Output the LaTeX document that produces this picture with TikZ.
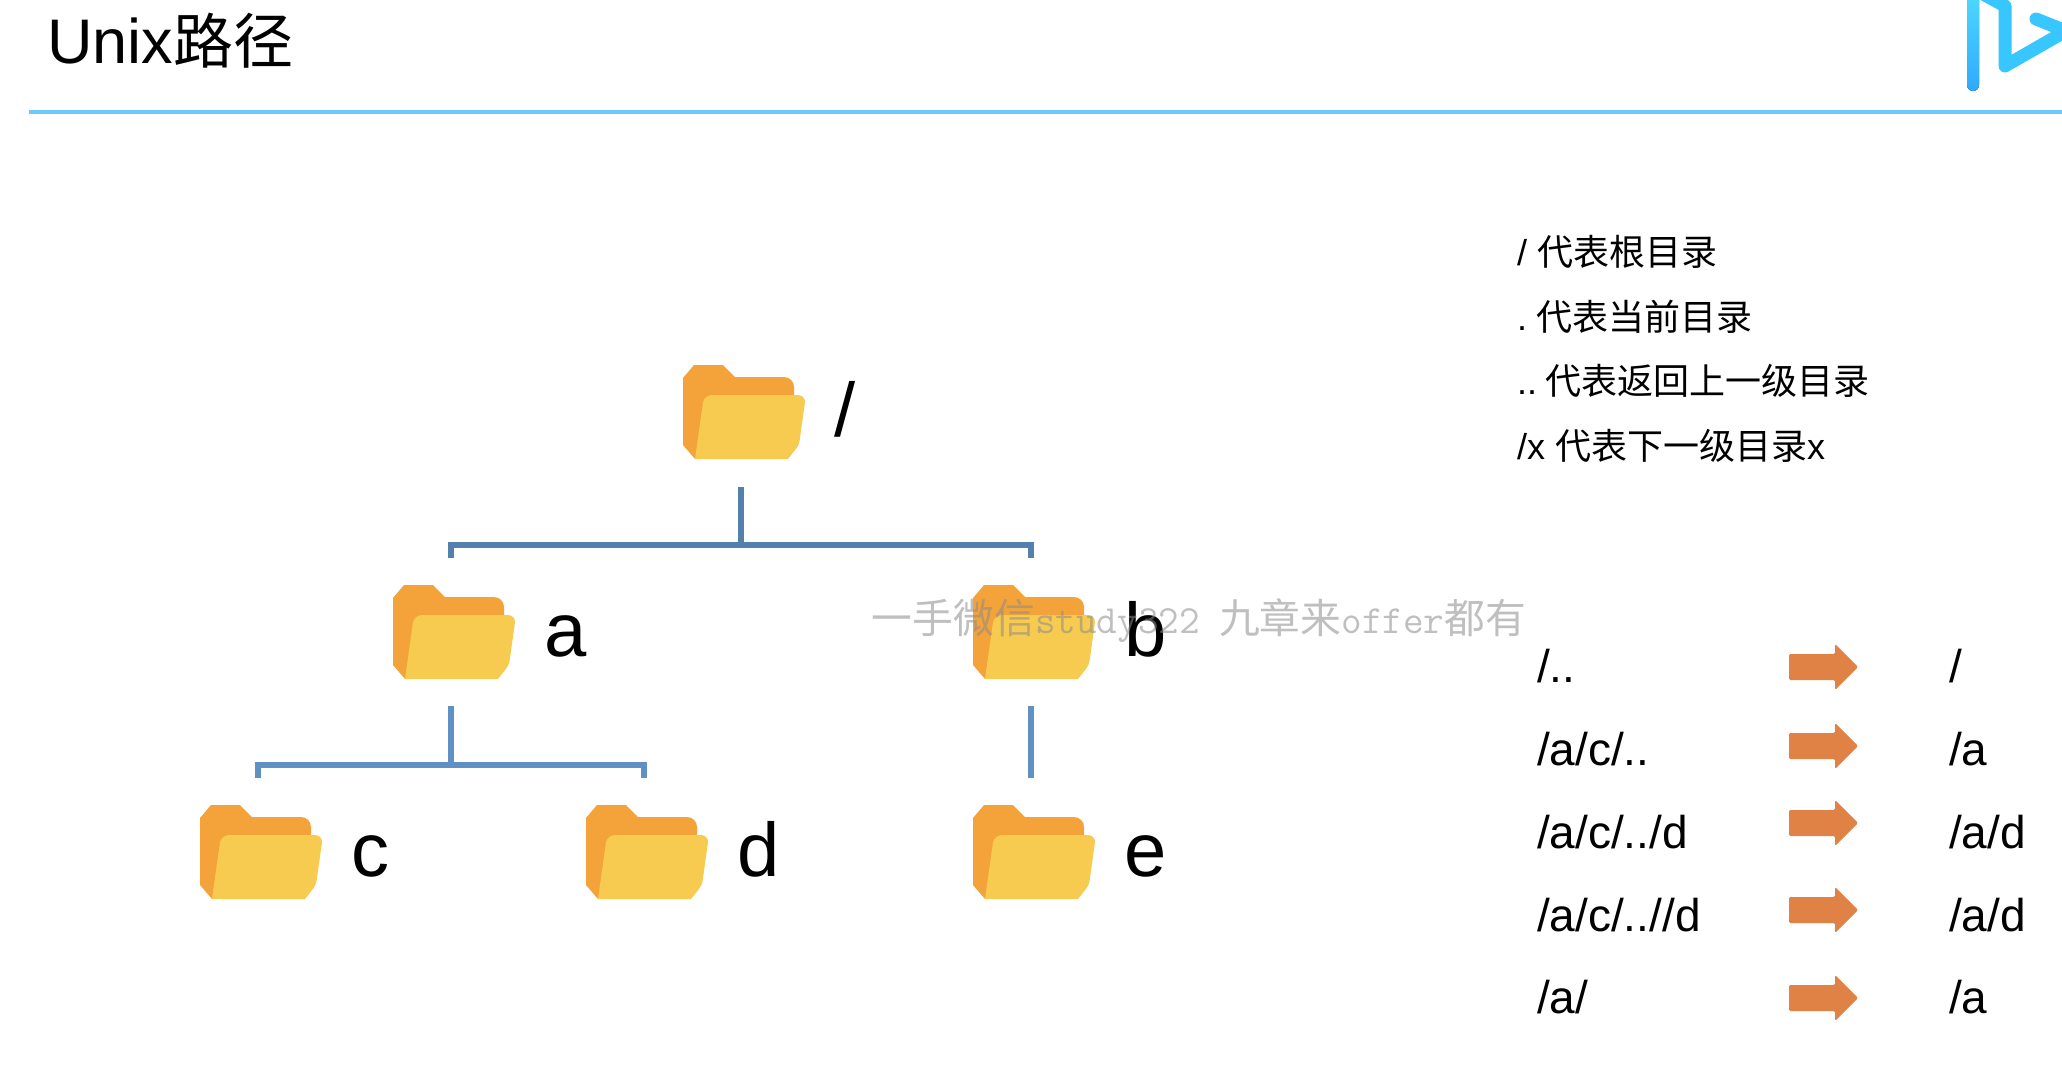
\documentclass[tikz,border=0pt]{standalone}
\usepackage{fontspec}
\setmainfont{Liberation Sans}
\newfontfamily\cjk{Noto Sans CJK SC}
\usetikzlibrary{shapes.arrows}
\definecolor{cback}{HTML}{F3A33A}
\definecolor{cfront}{HTML}{F7CA50}
\definecolor{ctree}{HTML}{5480AE}
\definecolor{ctreeb}{HTML}{6090C4}
\definecolor{carrow}{HTML}{E08245}
\definecolor{crule}{HTML}{6CCBF7}
\definecolor{clogo}{HTML}{38C6FF}
\tikzset{
  every picture/.style={line width=1pt},
  title/.style={font=\fontsize{31.5}{36}\selectfont, anchor=base west, inner sep=0pt},
  biglabel/.style={font=\fontsize{38}{44}\selectfont, anchor=base west, inner sep=0pt},
  note/.style={font=\fontsize{18}{22}\selectfont, anchor=base west, inner sep=0pt},
  pathtext/.style={font=\fontsize{23}{28}\selectfont, anchor=base west, inner sep=0pt},
  treeline/.style={draw=#1, line width=2.6pt},
  treeline/.default=ctree,
  maparrow/.style={single arrow, fill=carrow, rounded corners=0.7pt, inner sep=0pt, text height=12pt, text depth=0pt,
    text width=0pt, minimum height=34.5pt, minimum width=22pt, single arrow head extend=5pt},
  folderbox/.style={inner sep=0pt, minimum width=58pt, minimum height=47pt},
  stampmark/.style={font=\fontsize{20.4}{24}\selectfont, text=black!45, text opacity=0.55, inner sep=0pt},
}
\newcommand{\folder}[4]{%
  \begin{scope}[shift={(#2,#3)}]
    \fill[cback] (0,13) -- (11,0) -- (40,0) -- (52,12) [rounded corners=5pt] -- (111,12) -- (111,60) [sharp corners] -- (12,94) -- (0,80) -- cycle;
    \fill[cfront] (12,94) [rounded corners=4pt] -- (21,30) -- (123,30) [rounded corners=2pt] -- (116,80) [sharp corners] -- (105,94) -- cycle;
    \node[folderbox] (#1) at (58,47) {};
    \node[biglabel] (#1-label) at (150,71) {#4};
  \end{scope}}
\newcommand{\pathrow}[5]{%
  \node[pathtext] (src-#1) at (1536,#4) {#2};
  \node[maparrow] (arrow-#1) at (1817,#5) {};
  \node[pathtext] (dst-#1) at (1948,#4) {#3};}

\begin{document}
\begin{tikzpicture}[x=0.5pt, y=-0.5pt]
  \useasboundingbox (0,0) rectangle (2062,1072);
  \fill[white] (0,0) rectangle (2062,1072);
  % header
  \node[title] (heading) at (46,63) {Unix{\cjk\fontsize{30}{34}\selectfont 路径}};
  \fill[crule] (29,110) rectangle (2062,114);
  \begin{scope}
    \clip (0,0) rectangle (2062,1072);
    \fill[rounded corners=3pt, top color=clogo!70!cyan!80!white, bottom color=clogo!85!blue] (1967,-20) rectangle (1979,91);
    \draw[clogo, line width=6.5pt, line cap=round, line join=round] (1983,-6) -- (2005,6) -- (2005,66) -- (2066,31) -- (2036,19);
  \end{scope}
  % folders
  \folder{root}{683}{365}{/}
  \folder{a}{393}{585}{a}
  \folder{b}{973}{585}{b}
  \folder{c}{200}{805}{c}
  \folder{d}{586}{805}{d}
  \folder{e}{973}{805}{e}
  % tree
  \coordinate (root-out) at ([yshift=-13.5pt]root.south);
  \coordinate (root-mid) at ([yshift=-29pt]root-out);
  \coordinate (a-in) at ([yshift=13pt]a.north);
  \coordinate (b-in) at ([yshift=13pt]b.north);
  \draw[treeline] (root-out) -- (root-mid);
  \draw[treeline] (a-in) |- (root-mid) -| (b-in);
  \coordinate (a-out) at ([yshift=-13pt]a.south);
  \coordinate (a-mid) at ([yshift=-29.5pt]a-out);
  \coordinate (b-out) at ([yshift=-13pt]b.south);
  \coordinate (c-in) at ([yshift=13pt]c.north);
  \coordinate (d-in) at ([yshift=13pt]d.north);
  \coordinate (e-in) at ([yshift=13pt]e.north);
  \draw[treeline=ctreeb] (a-out) -- (a-mid);
  \draw[treeline=ctreeb] (c-in) |- (a-mid) -| (d-in);
  \draw[treeline=ctreeb] (b-out) -- (e-in);
  % notes
  \node[note] (note-1) at (1516,265) {/ {\cjk 代表根目录}};
  \node[note] (note-2) at (1516,330) {.\kern-0.5pt\ {\cjk 代表当前目录}};
  \node[note] (note-3) at (1516,394.5) {..\kern-1pt\ {\cjk 代表返回上一级目录}};
  \node[note] (note-4) at (1516,459) {/x {\cjk 代表下一级目录}x};
  % path table
  \pathrow{1}{/..}{/}{682}{667}
  \pathrow{2}{/a/c/..}{/a}{765}{746}
  \pathrow{3}{/a/c/../d}{/a/d}{848}{823}
  \pathrow{4}{/a/c/..//d}{/a/d}{931}{910}
  \pathrow{5}{/a/}{/a}{1013}{998}
  % stamp
  \node[stampmark] (stamp) at (1199,621) {{\cjk 一手微信}{\ttfamily\fontsize{20}{24}\selectfont study322}\kern4pt\ {\cjk 九章来}{\ttfamily\fontsize{20}{24}\selectfont offer}{\cjk 都有}};
\end{tikzpicture}
\end{document}
